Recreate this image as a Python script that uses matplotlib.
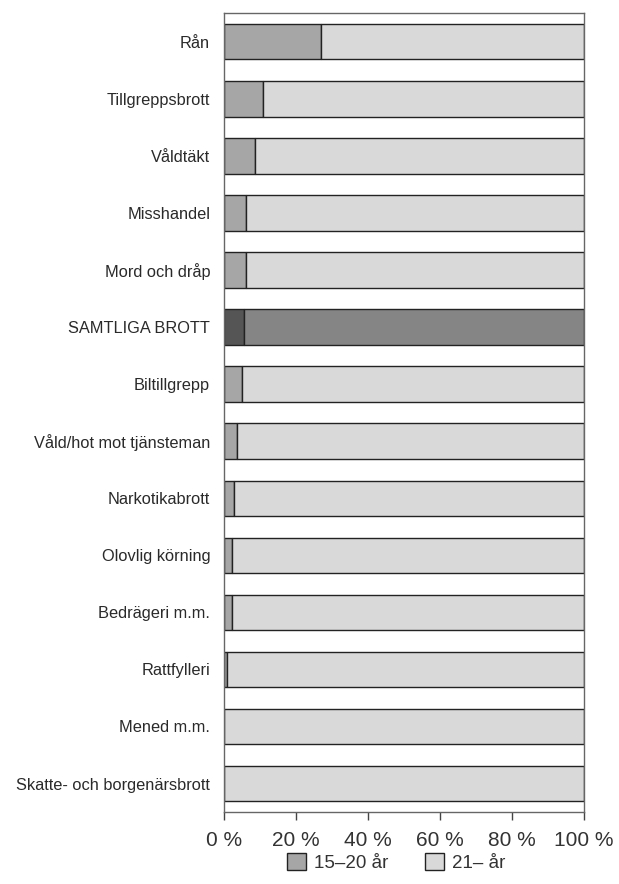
import matplotlib.pyplot as plt
import numpy as np

plt.rcParams['font.family'] = ['Liberation Sans', 'DejaVu Sans']

# data (andel av misstänkta, %)
categories = ['Rån', 'Tillgreppsbrott', 'Våldtäkt', 'Misshandel', 'Mord och dråp',
              'SAMTLIGA BROTT', 'Biltillgrepp', 'Våld/hot mot tjänsteman',
              'Narkotikabrott', 'Olovlig körning', 'Bedrägeri m.m.', 'Rattfylleri',
              'Mened m.m.', 'Skatte- och borgenärsbrott']
young = [27.0, 10.8, 8.5, 6.2, 6.2, 5.5, 5.1, 3.5, 2.8, 2.2, 2.2, 0.8, 0.0, 0.0]
old = [100 - v for v in young]
legend_labels = ['15–20 år', '21– år']
ticks = [0, 20, 40, 60, 80, 100]

fig = plt.figure(figsize=(6.19, 8.84), dpi=100)
ax = fig.add_axes([0.362, 0.0814, 0.581, 0.9036])

y = np.arange(len(categories))
c_young = ['#555555' if c == 'SAMTLIGA BROTT' else '#a6a6a6' for c in categories]
c_old = ['#858585' if c == 'SAMTLIGA BROTT' else '#d9d9d9' for c in categories]

ax.barh(y, young, height=0.62, color=c_young, edgecolor='#222222', linewidth=1.0)
ax.barh(y, old, left=young, height=0.62, color=c_old, edgecolor='#222222', linewidth=1.0)

ax.set_ylim(len(categories) - 0.5, -0.5)
ax.set_xlim(0, 100)
ax.set_yticks(y)
ax.set_yticklabels(categories, fontsize=11.8, color='#2a2a2a')
ax.tick_params(axis='y', length=0, pad=10)
ax.set_xticks(ticks)
ax.set_xticklabels([f'{t} %' for t in ticks], fontsize=15, color='#333333')
ax.tick_params(axis='x', length=6, width=1, color='#444444', pad=8, direction='out')

for s in ax.spines.values():
    s.set_color('#666666')
    s.set_linewidth(1.0)

h1 = plt.Rectangle((0, 0), 1, 1, facecolor='#a6a6a6', edgecolor='#222222', linewidth=1)
h2 = plt.Rectangle((0, 0), 1, 1, facecolor='#d9d9d9', edgecolor='#222222', linewidth=1)
fig.legend([h1, h2], legend_labels, loc='center', bbox_to_anchor=(0.64, 0.024),
           ncol=2, frameon=False, fontsize=13.5, handlelength=1.0, handleheight=1.0,
           handletextpad=0.4, columnspacing=2.0, labelcolor='#333333')

fig.savefig('out.png', dpi=100)
